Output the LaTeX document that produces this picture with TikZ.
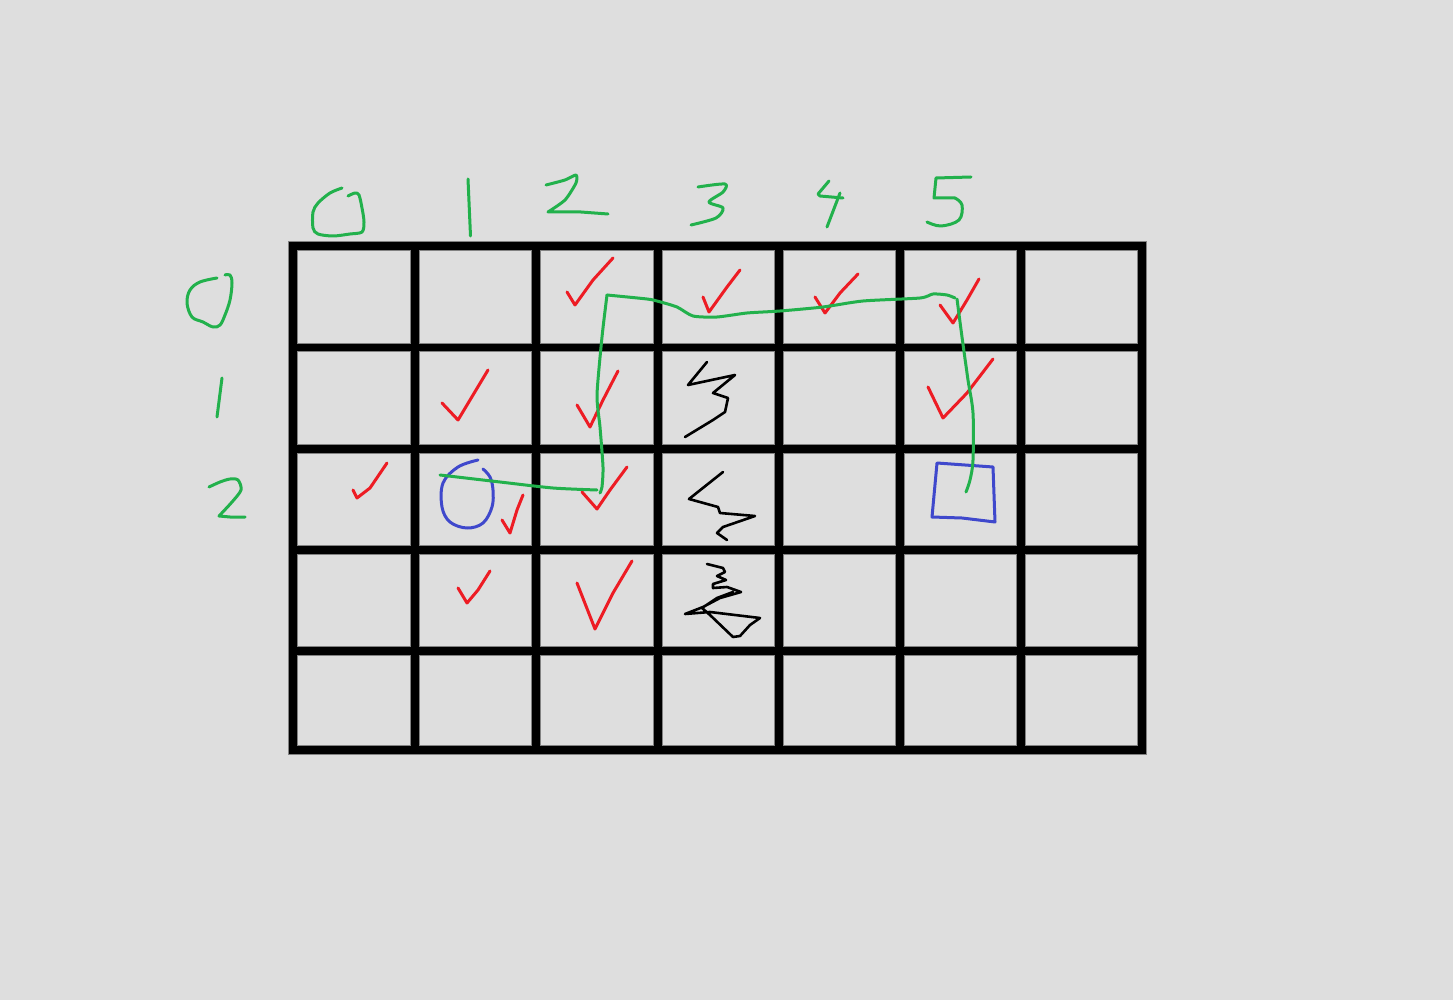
\documentclass[tikz,border=0pt]{standalone}
\definecolor{bgc}{RGB}{222,222,222}
\definecolor{gpc}{RGB}{34,177,76}
\definecolor{rpc}{RGB}{237,28,36}
\definecolor{bpc}{RGB}{63,72,204}
\definecolor{ggc}{RGB}{130,130,130}
\begin{document}
\begin{tikzpicture}[x=1pt,y=-1pt,
  pen/.style={line width=3pt,line cap=round,line join=round},
  gpen/.style={pen,draw=gpc},
  rpen/.style={pen,draw=rpc},
  bpen/.style={pen,draw=bpc},
  kpen/.style={pen,draw=black,line width=2.6pt},
  gridgray/.style={draw=ggc,line width=9.5pt,line cap=rect},
  gridblack/.style={draw=black,line width=7.5pt,line cap=rect}]
\fill[bgc] (0,0) rectangle (1453,1000);
\useasboundingbox (0,0) rectangle (1453,1000);
% grid
\foreach \x in {293,415,536,658,779,900,1021,1142}{\draw[gridgray] (\x,246) -- (\x,750);}
\foreach \y in {246,347.5,449,550,651,750}{\draw[gridgray] (293,\y) -- (1142,\y);}
\foreach \x in {293,415,536,658,779,900,1021,1142}{\draw[gridblack] (\x,246) -- (\x,750);}
\foreach \y in {246,347.5,449,550,651,750}{\draw[gridblack] (293,\y) -- (1142,\y);}
% column labels
\draw[gpen] plot[smooth,tension=0.5] coordinates {(342,188) (330,193) (318,203) (313,212) (313,228) (318,234) (333,236) (350,234) (362,232) (364,222) (362,208) (359,195) (355,193) (348,196)};
\draw[gpen] (468,179) -- (470.5,236);
\draw[gpen] plot[smooth,tension=0.4] coordinates {(546,185) (565,180) (576,175) (576,183) (565,200) (548,212)} -- (581,212) -- (608,214);
\draw[gpen] plot[smooth,tension=0.5] coordinates {(698,187) (725,184) (723,192) (709,202) (723,208) (716,218) (691,225)};
\draw[gpen] (829,181) -- (818,194) -- (820,196) -- (843,198);
\draw[gpen] (840,193) -- (827,227);
\draw[gpen] (971,177) -- (936,178) -- (934,198) -- (955,198);
\draw[gpen] plot[smooth,tension=0.6] coordinates {(955,198) (962,205) (959,220) (941,226) (927,222)};
% row labels
\draw[gpen] plot[smooth,tension=0.6] coordinates {(217,278) (200,282) (190,290) (187,303) (192,317) (203,322) (213,327) (220,325) (225,315) (230,300) (232,283) (230,275) (225,275)};
\draw[gpen] (222,378) -- (217,417);
\draw[gpen] plot[smooth,tension=0.5] coordinates {(209,487) (220,482) (230,479) (238,480) (241,490) (232,502) (219,516)} -- (230,517) -- (245,517);
% red checks
\draw[rpen] (567,292) -- (575,305) -- (593,280) -- (613,258);
\draw[rpen] (703,297) -- (709,312) -- (727,287) -- (740,270);
\draw[rpen] (815,297) -- (825,313) -- (840,293) -- (858,274);
\draw[rpen] (940,305) -- (953,323) -- (967,300) -- (979,279);
\draw[rpen] (442,403) -- (458,420) -- (473,395) -- (488,370);
\draw[rpen] (577,405) -- (590,427) -- (603,400) -- (618,371);
\draw[rpen] (928,387) -- (943,418) -- (967,393) -- (993,359);
\draw[rpen] (353,490) -- (357,498) -- (370,488) -- (387,463);
\draw[rpen] (582,492) -- (597,509) -- (610,490) -- (627,467);
\draw[rpen] (502,520) -- (510,533) -- (517,510) -- (523,495);
\draw[rpen] (458,588) -- (467,603) -- (478,590) -- (490,571);
\draw[rpen] (577,583) -- (595,629) -- (613,593) -- (632,561);
% black scribbles
\draw[kpen] (707,362) -- (688,385) -- (735,375) -- (713,393) -- (728,398) -- (725,412) -- (713,420) -- (685,437);
\draw[kpen] (723,472) -- (689,499) -- (718,507) -- (720,513) -- (755,516) -- (723,527) -- (717,533) -- (727,540);
\draw[kpen] (707,564) -- (723,568) -- (725,572) -- (717,576) -- (726,580) -- (713,584) -- (713,588) -- (727,587) -- (741,592) -- (720,598) -- (703,607) -- (685,614) -- (710,612) -- (760,618) -- (750,625) -- (740,636) -- (733,637) -- (710,615) -- (702,608) -- (717,598) -- (733,592);
% blue start and goal
\draw[bpen] plot[smooth,tension=0.6] coordinates {(478,460) (458,467) (443,483) (442,507) (450,522) (467,528) (483,523) (492,507) (493,490) (490,477) (483,469)};
\draw[bpen] (937,463) -- (993,467) -- (995,522) -- (962,518) -- (932,517) -- cycle;
% green path
\draw[gpen] plot[smooth,tension=0.4] coordinates {(440,475) (500,482) (553,488) (597,490)};
\draw[gpen] plot[smooth,tension=0.4] coordinates {(600,493) (602,487) (603,467) (600,427) (597,395) (602,337) (607,295)};
\draw[gpen] plot[smooth,tension=0.4] coordinates {(607,295) (647,299) (657,301) (677,307) (693,316) (717,317) (747,313) (780,311) (823,307) (863,301) (920,298) (933,294) (947,295) (955,298)};
\draw[gpen] plot[smooth,tension=0.5] coordinates {(957,299) (962,337) (968,380) (973,413) (973,460) (970,480) (966,492)};
\end{tikzpicture}
\end{document}
